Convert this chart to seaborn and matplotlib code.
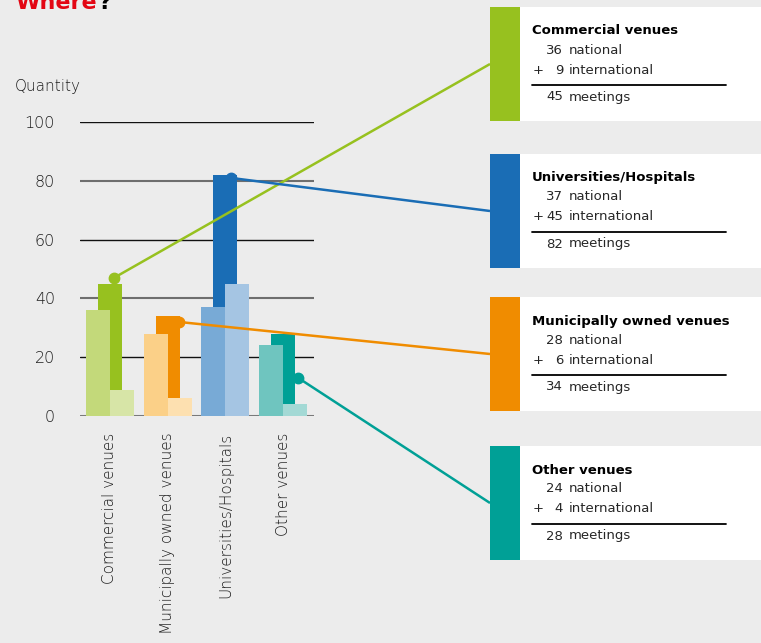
import matplotlib
matplotlib.use("Agg")
import matplotlib.pyplot as plt
import seaborn as sns
import numpy as np
import pandas as pd

# Data
categories = ["Commercial venues", "Municipally owned venues",
              "Universities/Hospitals", "Other venues"]
national = [36, 28, 37, 24]
international = [9, 6, 45, 4]
totals = [45, 34, 82, 28]
y_ticks = [0, 20, 40, 60, 80, 100]

dark_colors = ["#97c11f", "#f08c00", "#1a6db5", "#00a096"]
national_colors = ["#c3d97a", "#fbd088", "#78aad6", "#6fc5bf"]
intl_colors = ["#d7e5a7", "#fde0b0", "#a5c5e3", "#a3d9d5"]

# where the connector dots sit (x offset from category, value)
dot_dx = [0.07, 0.19, 0.09, 0.26]
dot_y = [47, 32, 81, 13]

# info boxes: order on the right, top pixel of each box
box_order = [0, 2, 1, 3]
box_tops = [7, 154, 297, 446]

W, H = 761, 643
sns.set_theme(style="white")
plt.rcParams["font.family"] = ["DejaVu Sans"]
fig = plt.figure(figsize=(W / 100, H / 100), dpi=100)
fig.patch.set_facecolor("#ececec")

ax = fig.add_axes([80 / W, (H - 416) / H, 234 / W, 294 / H])
ax.set_facecolor("none")

pos = np.arange(len(categories))
bw = 0.416
df = pd.DataFrame({"cat": categories, "pos": pos, "national": national,
                   "international": international, "total": totals})

# background gridlines
for t in y_ticks:
    if t == 0:
        ax.axhline(t, color="#7a7a7a", lw=2.2, zorder=0)
    elif t in (40, 80):
        ax.axhline(t, color="#6e6e6e", lw=1.5, zorder=0)
    else:
        ax.axhline(t, color="#111111", lw=1.0, zorder=0)

bar_kw = dict(native_scale=True, width=bw, dodge=False, legend=False, ax=ax,
              saturation=1, linewidth=0, edgecolor="none")
sns.barplot(data=df.assign(x=df["pos"]), x="x", y="total", hue="cat",
            palette=dark_colors, zorder=2, **bar_kw)
sns.barplot(data=df.assign(x=df["pos"] - bw / 2), x="x", y="national", hue="cat",
            palette=national_colors, zorder=3, **bar_kw)
sns.barplot(data=df.assign(x=df["pos"] + bw / 2), x="x", y="international", hue="cat",
            palette=intl_colors, zorder=3, **bar_kw)

ax.set_xlim(-0.52, 3.537)
ax.set_ylim(0, 100)
ax.set_xticks(pos)
ax.set_xticklabels(categories, rotation=90, fontsize=11, color="#1e1e1e",
                   fontweight="light")
ax.set_yticks(y_ticks)
ax.set_yticklabels([str(t) for t in y_ticks], fontsize=11.5, color="#1e1e1e",
                   fontweight="light")
ax.tick_params(axis="both", length=0)
ax.tick_params(axis="y", pad=18)
ax.tick_params(axis="x", pad=12)
ax.set_xlabel("")
ax.set_ylabel("")
sns.despine(ax=ax, left=True, bottom=True)

# overlay in pixel coordinates for boxes, title, connectors
ov = fig.add_axes([0, 0, 1, 1], zorder=10)
ov.set_xlim(0, W)
ov.set_ylim(H, 0)
ov.axis("off")
ov.patch.set_alpha(0)

ov.text(15, 9, "Where", color="#e30613", fontsize=16, fontweight="bold",
        va="baseline", ha="left")
ov.text(99, 9, "?", color="black", fontsize=16, fontweight="bold",
        va="baseline", ha="left")
ov.text(15, 87, "Quantity", fontsize=11, color="#1e1e1e", va="center", ha="left",
        fontweight="light")

to_ov = ov.transData.inverted()
for slot, i in enumerate(box_order):
    top = box_tops[slot]
    c = dark_colors[i]
    ov.add_patch(plt.Rectangle((490, top), 30, 114, color=c, lw=0))
    ov.add_patch(plt.Rectangle((520, top), W - 520, 114, color="white", lw=0))
    ov.text(532, top + 24, categories[i], fontsize=9.5, fontweight="bold",
            color="black", va="center", ha="left")
    ov.text(563, top + 43, str(national[i]), fontsize=9.5, va="center", ha="right")
    ov.text(569, top + 43, "national", fontsize=9.5, va="center", ha="left")
    ov.text(533, top + 63, "+", fontsize=9.5, va="center", ha="left")
    ov.text(563, top + 63, str(international[i]), fontsize=9.5, va="center", ha="right")
    ov.text(569, top + 63, "international", fontsize=9.5, va="center", ha="left")
    ov.plot([532, 726], [top + 78, top + 78], color="black", lw=1.3)
    ov.text(563, top + 90, str(totals[i]), fontsize=9.5, va="center", ha="right")
    ov.text(569, top + 90, "meetings", fontsize=9.5, va="center", ha="left")

    # connector from dot on bar to box
    px, py = to_ov.transform(ax.transData.transform((pos[i] + dot_dx[i], dot_y[i])))
    ov.plot([px, 490], [py, top + 57], color=c, lw=1.8, solid_capstyle="butt")
    ov.plot([px], [py], "o", color=c, markersize=7.5)

fig.savefig("out.png", dpi=100, facecolor=fig.get_facecolor())
